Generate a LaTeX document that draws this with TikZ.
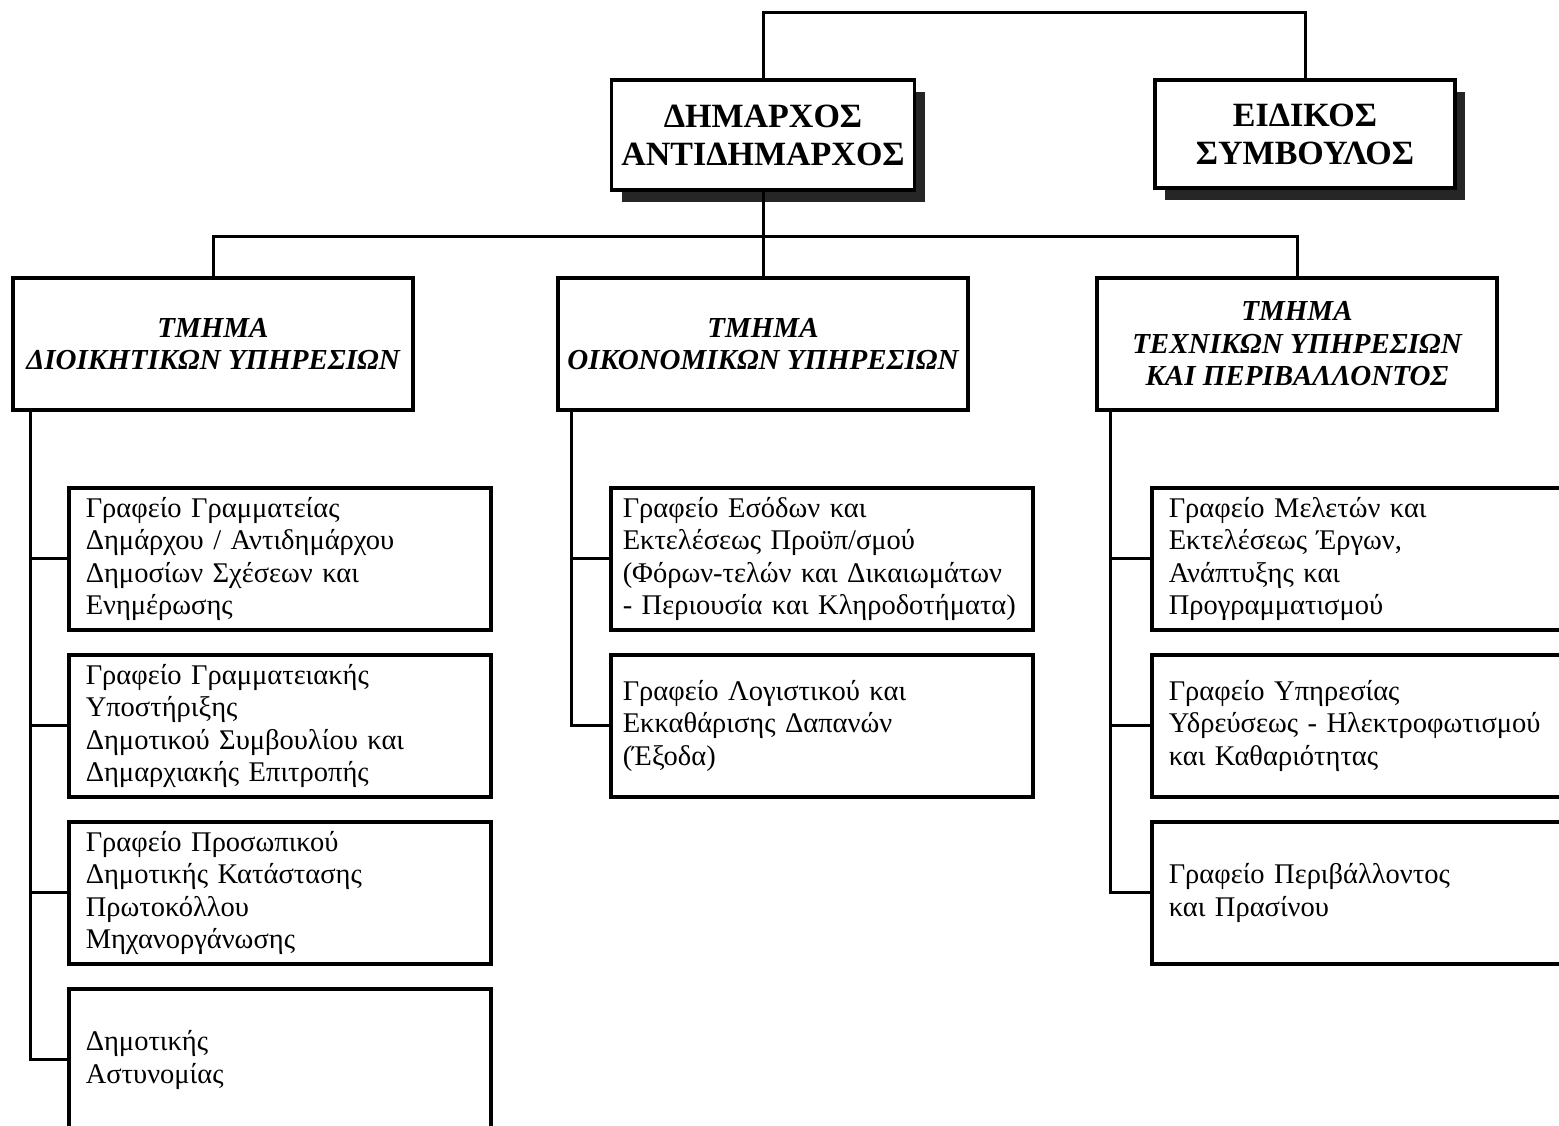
\documentclass[tikz,border=0pt]{standalone}
\usepackage{fontspec}
\setmainfont{Liberation Serif}
\usetikzlibrary{positioning,shadows}

\tikzset{
  chief/.style={draw, line width=3.5pt, fill=white, align=center,
    font=\fontsize{34}{38}\selectfont\bfseries,
    drop shadow={shadow xshift=10pt, shadow yshift=-12pt, fill=black!85, opacity=1}},
  dept/.style={draw, line width=3.5pt, minimum height=132pt, align=center,
    font=\fontsize{29}{32.5}\selectfont\bfseries\itshape},
  office/.style={draw, line width=3.5pt, minimum height=142pt, text width=388pt,
    inner xsep=17pt, align=left, font=\fontsize{28.5}{32.5}\selectfont},
  wideoffice/.style={office, text width=398pt, inner xsep=12pt},
  link/.style={line width=3pt, line join=miter}
}

\begin{document}
\begin{tikzpicture}[x=1pt,y=-1pt]
  \clip (0,0) rectangle (1559,1126);
  \fill[white] (0,0) rectangle (1559,1126);

  % top level
  \node [chief, minimum width=303pt, minimum height=110pt] (mayor) at (763,135) {ΔΗΜΑΡΧΟΣ\\ΑΝΤΙΔΗΜΑΡΧΟΣ};
  \node [chief, minimum width=300pt, minimum height=108pt] (adviser) at (1305,134) {ΕΙΔΙΚΟΣ\\ΣΥΜΒΟΥΛΟΣ};

  % departments
  \node [dept, minimum width=400pt] (admin) at (213,344) {ΤΜΗΜΑ\\ΔΙΟΙΚΗΤΙΚΩΝ ΥΠΗΡΕΣΙΩΝ};
  \node [dept, minimum width=410pt] (econ) at (763,344) {ΤΜΗΜΑ\\ΟΙΚΟΝΟΜΙΚΩΝ ΥΠΗΡΕΣΙΩΝ};
  \node [dept, minimum width=400pt] (tech) at (1297,344) {ΤΜΗΜΑ\\ΤΕΧΝΙΚΩΝ ΥΠΗΡΕΣΙΩΝ\\ΚΑΙ ΠΕΡΙΒΑΛΛΟΝΤΟΣ};

  % offices of the administrative department
  \node [office, anchor=north west] (secretariat) at (67,486) {Γραφείο Γραμματείας\\Δημάρχου / Αντιδημάρχου\\Δημοσίων Σχέσεων και\\Ενημέρωσης};
  \node [office, below=21.5pt of secretariat] (support) {Γραφείο Γραμματειακής\\Υποστήριξης\\Δημοτικού Συμβουλίου και\\Δημαρχιακής Επιτροπής};
  \node [office, below=21.5pt of support] (personnel) {Γραφείο Προσωπικού\\Δημοτικής Κατάστασης\\Πρωτοκόλλου\\Μηχανοργάνωσης};
  \node [office, below=21.5pt of personnel] (police) {Δημοτικής\\Αστυνομίας};

  % offices of the economic department
  \node [wideoffice, anchor=north west] (revenue) at (609,486) {Γραφείο Εσόδων και\\Εκτελέσεως Προϋπ/σμού\\(Φόρων-τελών και Δικαιωμάτων\\- Περιουσία και Κληροδοτήματα)};
  \node [wideoffice, below=21.5pt of revenue] (accounts) {Γραφείο Λογιστικού και\\Εκκαθάρισης Δαπανών\\(Έξοδα)};

  % offices of the technical department
  \node [office, anchor=north west] (works) at (1150,486) {Γραφείο Μελετών και\\Εκτελέσεως Έργων,\\Ανάπτυξης και\\Προγραμματισμού};
  \node [office, below=21.5pt of works] (water) {Γραφείο Υπηρεσίας\\Υδρεύσεως - Ηλεκτροφωτισμού\\και Καθαριότητας};
  \node [office, below=21.5pt of water] (environment) {Γραφείο Περιβάλλοντος\\και Πρασίνου};

  % connectors
  \coordinate (topbar) at (1000,13);
  \coordinate (bus) at (763,237);
  \draw [link] (mayor.north) |- (topbar) -| (adviser.north);
  \draw [link] (mayor.south) -- (bus);
  \draw [link] (admin.north) |- (bus) -| (tech.north);
  \draw [link] (bus) -- (econ.north);

  \coordinate (adminspine) at ([xshift=19pt]admin.south west);
  \coordinate (econspine) at ([xshift=15pt]econ.south west);
  \coordinate (techspine) at ([xshift=15pt]tech.south west);
  \draw [link] (adminspine) |- (police.west);
  \draw [link] (econspine) |- (accounts.west);
  \draw [link] (techspine) |- (environment.west);
  \foreach \n in {secretariat,support,personnel}
    \draw [link] (\n.west) -- (adminspine |- \n.west);
  \draw [link] (revenue.west) -- (econspine |- revenue.west);
  \foreach \n in {works,water}
    \draw [link] (\n.west) -- (techspine |- \n.west);
\end{tikzpicture}
\end{document}
